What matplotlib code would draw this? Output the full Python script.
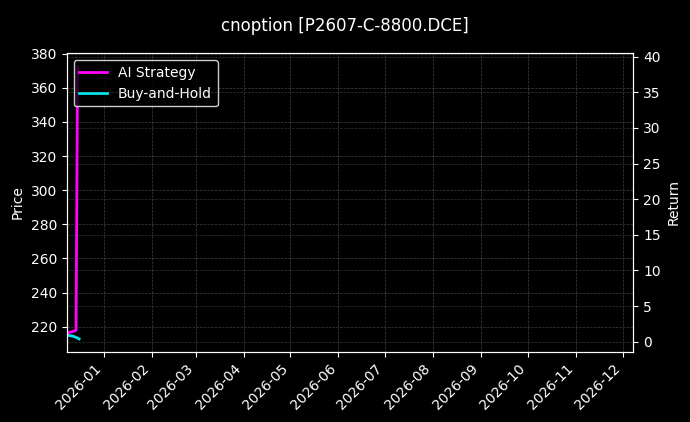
import matplotlib
matplotlib.use("Agg")
import matplotlib.pyplot as plt
import matplotlib.dates as mdates
import numpy as np
import pandas as pd

# series
strategy_dates = pd.to_datetime(["2025-12-08", "2025-12-10", "2025-12-13", "2025-12-14", "2025-12-15"])
strategy_price = [216.3, 216.8, 217.5, 218.0, 372.0]
hold_dates = pd.to_datetime(["2025-12-08", "2025-12-10", "2025-12-12", "2025-12-14", "2025-12-16"])
hold_price = [215.0, 214.8, 214.5, 213.8, 212.9]

x_start = pd.Timestamp("2025-12-08")
x_end = pd.Timestamp("2026-12-08")

plt.style.use("dark_background")
fig, ax = plt.subplots(figsize=(6.9, 4.22), dpi=100)
fig.patch.set_facecolor("black")
ax.set_facecolor("black")
fig.subplots_adjust(left=0.0967, right=0.918, top=0.8737, bottom=0.1666)

ax.plot(strategy_dates, strategy_price, color="#ff00ff", lw=2, label="AI Strategy")
ax.plot(hold_dates, hold_price, color="#00e5ee", lw=2, label="Buy-and-Hold")

ax.set_xlim(x_start, x_end)
ax.set_ylim(205.4, 380.2)
ax.set_ylabel("Price")
ax.grid(True, linestyle="--", color="gray", linewidth=0.5, alpha=0.5)

ax.xaxis.set_major_locator(mdates.MonthLocator())
ax.xaxis.set_major_formatter(mdates.DateFormatter("%Y-%m"))
plt.setp(ax.get_xticklabels(), rotation=45, ha="right")

ax2 = ax.twinx()
ax2.set_ylim(-1.4, 40.47)
ax2.set_ylabel("Return")
ax2.grid(True, axis="y", linestyle="--", color="gray", linewidth=0.5, alpha=0.4)

ax.legend(loc="upper left", facecolor="black", edgecolor="white", framealpha=0.8)
fig.suptitle("cnoption [P2607-C-8800.DCE]", fontsize=12, y=0.96)

fig.savefig("out.png", dpi=100, facecolor=fig.get_facecolor())
